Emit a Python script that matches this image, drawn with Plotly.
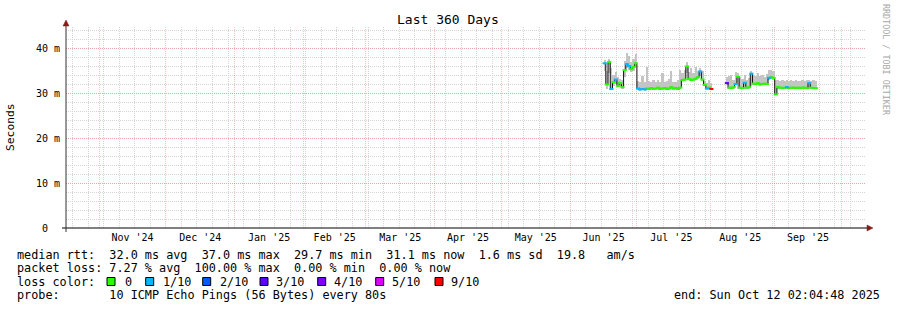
import pandas as pd
import plotly.graph_objects as go

# ---------------- data ----------------
START = "2024-10-17 02:04:48"
END = "2025-10-12 02:04:48"
first_day = "2025-06-16 12:00"  # centre of first sampled day

med_a = [36.6, 31.9, 36.9, 30.9, 32.4, 33.0, 31.6, 32.2, 31.3, 35.1, 36.4, 36.0, 35.3, 35.8, 36.6,
         31.0, 30.8, 30.9, 30.8, 31.0, 30.9, 31.1, 30.9, 31.0, 31.2, 30.9, 31.0, 31.1, 30.9, 31.0,
         31.3, 31.0, 31.1, 30.9, 31.2, 32.9, 33.0, 35.9, 33.1, 32.9, 33.0, 33.2, 33.5, 34.8, 33.0,
         31.8, 31.0, 31.2, 30.9]
hi_a = [37.3, 34.8, 37.6, 35.5, 34.0, 34.6, 33.5, 33.2, 33.0, 37.2, 38.9, 38.2, 37.0, 37.6, 38.6,
        32.6, 32.4, 33.8, 32.4, 35.8, 32.6, 32.5, 33.0, 32.4, 32.8, 32.5, 34.4, 32.5, 32.6, 33.1,
        34.8, 32.4, 32.5, 32.9, 35.2, 34.5, 35.2, 36.8, 34.6, 35.5, 34.4, 35.8, 35.0, 35.5, 35.0,
        32.6, 32.3, 32.8, 32.2]
lo_a = [35.0, 31.0, 34.5, 30.6, 31.5, 32.0, 31.3, 31.6, 31.0, 33.5, 35.6, 35.2, 34.6, 35.0, 35.8,
        30.7, 30.5, 30.6, 30.5, 30.7, 30.6, 30.8, 30.6, 30.7, 30.9, 30.6, 30.7, 30.8, 30.6, 30.7,
        31.0, 30.7, 30.8, 30.6, 30.9, 32.6, 32.7, 34.5, 32.8, 32.6, 32.7, 32.9, 33.2, 33.8, 32.7,
        31.5, 30.7, 30.9, 30.6]
loss_a = [1, 0, 0, 1, 0, 1, 0, 0, 0, 0, 1, 1, 0, 0, 0,
          1, 1, 1, 1, 0, 0, 0, 0, 0, 0, 0, 0, 0, 0, 0,
          0, 0, 0, 0, 0, 0, 0, 0, 0, 0, 0, 0, 0, 1, 0,
          0, 1, 0, 9]

gap_days = 6

med_b = [32.2, 31.2, 31.1, 31.3, 32.0, 33.6, 31.2, 31.1, 32.3, 31.2, 31.3, 34.3, 32.1, 32.0, 32.2,
         31.9, 32.0, 32.1, 32.0, 33.4, 33.5, 33.3, 29.7, 31.3, 31.2, 31.1, 31.2, 31.3, 31.1, 31.2,
         31.2, 31.1, 31.2, 31.1, 31.2, 31.2, 31.1, 32.2, 31.2, 31.1, 31.1]
hi_b = [33.5, 33.8, 34.0, 33.0, 34.7, 34.5, 33.5, 33.2, 34.0, 33.0, 33.4, 34.8, 34.0, 33.8, 34.4,
        33.7, 34.0, 33.6, 34.2, 35.1, 35.1, 35.0, 33.0, 32.9, 32.7, 32.9, 32.6, 32.8, 32.7, 32.9,
        32.6, 32.8, 32.7, 32.6, 32.9, 32.7, 32.8, 32.9, 32.7, 32.8, 32.6]
lo_b = [31.8, 30.9, 30.8, 31.0, 31.7, 31.0, 30.9, 30.8, 31.0, 30.9, 31.0, 31.5, 31.8, 31.7, 31.9,
        31.6, 31.7, 31.8, 31.7, 33.0, 33.1, 33.0, 29.5, 31.0, 30.9, 30.8, 30.9, 31.0, 30.8, 30.9,
        30.9, 30.8, 30.9, 30.8, 30.9, 30.9, 30.8, 30.9, 30.9, 30.8, 30.8]
loss_b = [3, 0, 0, 0, 1, 0, 0, 0, 1, 0, 0, 1, 0, 0, 0,
          0, 0, 0, 0, 1, 0, 0, 0, 0, 0, 0, 0, 1, 0, 0,
          0, 0, 0, 0, 0, 0, 0, 1, 0, 0, 0]

loss_levels = [0, 1, 2, 3, 4, 5, 9]
loss_labels = ["0", "1/10", "2/10", "3/10", "4/10", "5/10", "9/10"]
loss_colors = ["#26ff00", "#00b8ff", "#0059ff", "#5e00ff", "#7e00ff", "#dd00ff", "#ff0000"]

y_ticks = [0, 10, 20, 30, 40]
y_ticktext = ["0\u00a0\u00a0", "10\u00a0m", "20\u00a0m", "30\u00a0m", "40\u00a0m"]

title = "Last 360 Days"
legend_lines = [
    "median rtt:  32.0 ms avg  37.0 ms max  29.7 ms min  31.1 ms now  1.6 ms sd  19.8   am/s",
    "packet loss: 7.27 % avg  100.00 % max  0.00 % min  0.00 % now",
    "loss color:",
    "probe:       10 ICMP Echo Pings (56 Bytes) every 80s",
]
end_text = "end: Sun Oct 12 02:04:48 2025"
watermark = "RRDTOOL / TOBI OETIKER"

# ---------------- assemble ----------------
med = med_a + [None] * gap_days + med_b
hi = hi_a + [None] * gap_days + hi_b
lo = lo_a + [None] * gap_days + lo_b
loss = loss_a + [None] * gap_days + loss_b
dates = pd.date_range(first_day, periods=len(med), freq="D")
DAY_MS = 86400000

W, H = 897, 310
X0, X1, Y0, Y1 = 66, 866, 27, 228  # plot area in px


def px(x):
    return (x - X0) / (X1 - X0)


def py(y):
    return (Y1 - y) / (Y1 - Y0)


def nb(s):
    return s.replace(" ", "\u00a0")


MONO = "DejaVu Sans Mono"
MGRID = "rgba(255,90,90,0.38)"
GRID = "#d4d4d4"

fig = go.Figure()

# smoke
fig.add_trace(go.Bar(
    x=dates, base=lo,
    y=[(h - l) if h is not None else None for h, l in zip(hi, lo)],
    width=DAY_MS, marker=dict(color="#c4c4c4", line=dict(width=0)),
    hoverinfo="skip", showlegend=False))

# median line
fig.add_trace(go.Scatter(
    x=dates, y=med, mode="lines", connectgaps=False,
    line=dict(color="#101010", width=1, shape="hvh"),
    hoverinfo="skip", showlegend=False))

# loss-coloured median marks
for lvl, col in zip(loss_levels, loss_colors):
    ys = [m if (l == lvl) else None for m, l in zip(med, loss)]
    fig.add_trace(go.Scatter(
        x=dates, y=ys, mode="markers",
        marker=dict(symbol="line-ew", size=3, color=col,
                    line=dict(color=col, width=2)),
        hoverinfo="skip", showlegend=False))

fig.update_layout(
    width=W, height=H, autosize=False,
    margin=dict(l=X0, r=W - X1, t=Y0, b=H - Y1, pad=0),
    paper_bgcolor="white", plot_bgcolor="white",
    barmode="overlay", bargap=0,
    font=dict(family=MONO, size=10, color="#000"),
    showlegend=False,
    xaxis=dict(
        type="date", range=[START, END],
        dtick="M1", tick0="2024-11-01", tickformat="%b '%y",
        ticklabelmode="period", ticks="",
        showgrid=True, gridcolor=MGRID, griddash="1px,1px", gridwidth=1,
        minor=dict(dtick=7 * DAY_MS, tick0="2024-10-20", showgrid=True,
                   gridcolor=GRID, griddash="1px,1px", gridwidth=1),
        showline=False, zeroline=False,
        tickfont=dict(family=MONO, size=10, color="#000"),
        ticklabelstandoff=2,
    ),
    yaxis=dict(
        range=[0, 44.67], tickvals=y_ticks, ticktext=y_ticktext, ticks="",
        showgrid=True, gridcolor=MGRID, griddash="1px,1px", gridwidth=1,
        minor=dict(dtick=2, showgrid=True, gridcolor=GRID,
                   griddash="1px,1px", gridwidth=1),
        showline=False, zeroline=False,
        tickfont=dict(family=MONO, size=10, color="#000"),
        ticklabelstandoff=5,
    ),
)

shapes = []
# axes lines
shapes.append(dict(type="line", xref="paper", yref="paper", x0=px(62), x1=px(868), y0=0, y1=0,
                   line=dict(color="#000", width=1)))
shapes.append(dict(type="line", xref="paper", yref="paper", x0=0, x1=0, y0=py(232), y1=py(24),
                   line=dict(color="#333", width=1)))
# arrows
shapes.append(dict(type="path", xref="paper", yref="paper",
                   path=f"M {px(867)} {py(225)} L {px(873)} {py(228)} L {px(867)} {py(231)} Z",
                   fillcolor="#8b1a1a", line=dict(color="#8b1a1a", width=0.5)))
shapes.append(dict(type="path", xref="paper", yref="paper",
                   path=f"M {px(63)} {py(26)} L {px(66)} {py(20)} L {px(69)} {py(26)} Z",
                   fillcolor="#8b1a1a", line=dict(color="#8b1a1a", width=0.5)))

annotations = []
# title
annotations.append(dict(text=title, xref="paper", yref="paper", x=px(448), y=py(19.5),
                        xanchor="center", yanchor="middle", showarrow=False,
                        font=dict(family=MONO, size=13, color="#000")))
# y title
annotations.append(dict(text="Seconds", xref="paper", yref="paper", x=px(11), y=py(127),
                        xanchor="center", yanchor="middle", textangle=-90, showarrow=False,
                        font=dict(family=MONO, size=11.3, color="#000")))
# watermark
annotations.append(dict(text=nb(watermark), xref="paper", yref="paper", x=px(886), y=py(60),
                        xanchor="center", yanchor="middle", textangle=90, showarrow=False,
                        font=dict(family=MONO, size=8.4, color="#a8a8a8")))
# legend lines
line_y = [254.5, 268, 281.5, 295]
for txt, yy in zip(legend_lines, line_y):
    annotations.append(dict(text=nb(txt), xref="paper", yref="paper", x=px(15), y=py(yy),
                            xanchor="left", yanchor="middle", showarrow=False,
                            font=dict(family=MONO, size=11.8, color="#000")))
annotations.append(dict(text=nb(end_text), xref="paper", yref="paper", x=px(882), y=py(295),
                        xanchor="right", yanchor="middle", showarrow=False,
                        font=dict(family=MONO, size=11.8, color="#000")))
# loss colour boxes
box_x = [107, 145.7, 202.7, 260, 317.7, 375.7, 435]
lab_x = [124, 161.7, 218.7, 275, 333, 390.7, 450]
for bx, lx, col, lab in zip(box_x, lab_x, loss_colors, loss_labels):
    shapes.append(dict(type="rect", xref="paper", yref="paper",
                       x0=px(bx), x1=px(bx + 8), y0=py(285.5), y1=py(277.5),
                       fillcolor=col, line=dict(color="#000", width=1)))
    annotations.append(dict(text=lab, xref="paper", yref="paper", x=px(lx - 1), y=py(281.5),
                            xanchor="left", yanchor="middle", showarrow=False,
                            font=dict(family=MONO, size=11.8, color="#000")))

fig.update_layout(shapes=shapes, annotations=annotations)
fig.write_html("out.html")
